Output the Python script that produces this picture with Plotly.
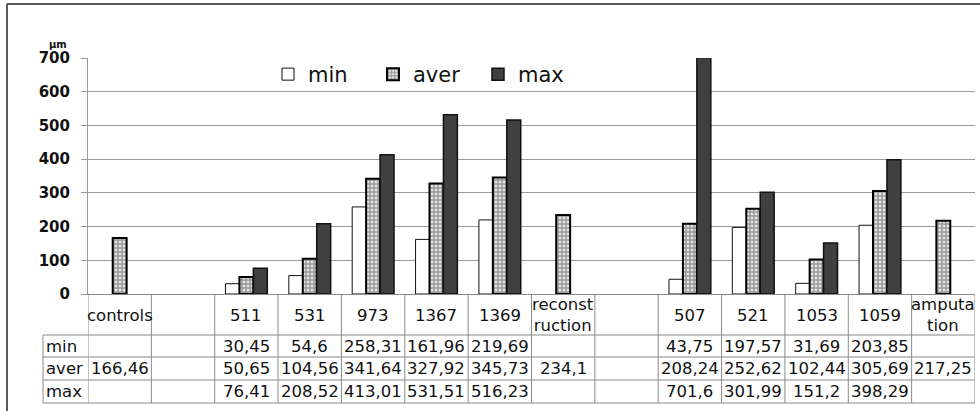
import plotly.graph_objects as go

# ---- data ----
categories = ["controls", "", "511", "531", "973", "1367", "1369", "reconst<br>ruction",
              "", "507", "521", "1053", "1059", "amputa<br>tion"]
min_vals = [None, None, 30.45, 54.6, 258.31, 161.96, 219.69, None, None, 43.75, 197.57, 31.69, 203.85, None]
aver_vals = [166.46, None, 50.65, 104.56, 341.64, 327.92, 345.73, 234.1, None, 208.24, 252.62, 102.44, 305.69, 217.25]
max_vals = [None, None, 76.41, 208.52, 413.01, 531.51, 516.23, None, None, 701.6, 301.99, 151.2, 398.29, None]
series_names = ["min", "aver", "max"]
y_ticks = [0, 100, 200, 300, 400, 500, 600, 700]

# ---- layout geometry (pixels) ----
W, H = 980, 411
L, R, T, B = 88, 975, 58, 294
PW, PH = R - L, B - T


def px(x):
    return (x - L) / PW


def py(y):
    return (B - y) / PH


def fmt(v):
    return ("%g" % v).replace(".", ",")


xs = list(range(len(categories)))
FONT = "DejaVu Sans"
TXT = 16.5
GRID = "#9a9a9a"
TBL = "#8a8a8a"

fig = go.Figure()
fig.add_trace(go.Bar(x=xs, y=min_vals, name=series_names[0],
                     marker=dict(color="white", line=dict(color="#111", width=1))))
fig.add_trace(go.Bar(x=xs, y=aver_vals, name=series_names[1],
                     marker=dict(color="white", line=dict(color="#000", width=2),
                                 pattern=dict(shape="+", fgcolor="#4a4a4a", bgcolor="#e6e6e6",
                                              size=4, solidity=0.6))))
fig.add_trace(go.Bar(x=xs, y=max_vals, name=series_names[2],
                     marker=dict(color="#404040", line=dict(color="#111", width=1.5))))

shapes = []
annotations = []

# table horizontal lines
for yy in [335, 357, 380, 403]:
    shapes.append(dict(type="line", xref="paper", yref="paper", x0=px(43), x1=1,
                       y0=py(yy), y1=py(yy), line=dict(color=TBL, width=1)))
# table vertical lines at column boundaries
for i in range(len(categories) + 1):
    shapes.append(dict(type="line", xref="x", yref="paper", x0=i - 0.5, x1=i - 0.5,
                       y0=py(294), y1=py(403), line=dict(color=TBL, width=1)))
# label column left border
shapes.append(dict(type="line", xref="paper", yref="paper", x0=px(43), x1=px(43),
                   y0=py(335), y1=py(403), line=dict(color=TBL, width=1)))
# outer chart border (left + top)
shapes.append(dict(type="line", xref="paper", yref="paper", x0=px(7), x1=px(7),
                   y0=py(4), y1=py(420), line=dict(color="#5a5a5a", width=2)))
shapes.append(dict(type="line", xref="paper", yref="paper", x0=px(7), x1=px(990),
                   y0=py(4), y1=py(4), line=dict(color="#5a5a5a", width=2)))

# category labels
for i, c in enumerate(categories):
    if c:
        annotations.append(dict(x=i, y=py(315), xref="x", yref="paper", text=c,
                                showarrow=False, font=dict(family=FONT, size=TXT, color="#111"),
                                xanchor="center", yanchor="middle"))

# table rows
rows = [(series_names[0], min_vals, 346), (series_names[1], aver_vals, 368.5), (series_names[2], max_vals, 391.5)]
for name, vals, yc in rows:
    annotations.append(dict(x=px(44), y=py(yc), xref="paper", yref="paper", text=name,
                            showarrow=False, font=dict(family=FONT, size=TXT, color="#111"),
                            xanchor="left", yanchor="middle"))
    for i, v in enumerate(vals):
        if v is not None:
            annotations.append(dict(x=i, y=py(yc), xref="x", yref="paper", text=fmt(v),
                                    showarrow=False, font=dict(family=FONT, size=TXT, color="#111"),
                                    xanchor="center", yanchor="middle"))

# unit label
annotations.append(dict(x=px(58), y=py(45), xref="paper", yref="paper", text="μm",
                        showarrow=False, font=dict(family=FONT, size=10, color="#111", weight="bold"),
                        xanchor="center", yanchor="middle"))

fig.update_layout(
    width=W, height=H,
    margin=dict(l=L, r=W - R, t=T, b=H - B),
    paper_bgcolor="white", plot_bgcolor="white",
    barmode="group", bargap=0.34, bargroupgap=0,
    showlegend=True,
    legend=dict(orientation="h", x=px(268), xanchor="left", y=py(54), yanchor="top",
                bgcolor="rgba(0,0,0,0)", entrywidth=60, entrywidthmode="pixels",
                font=dict(family=FONT, size=21, color="#111")),
    xaxis=dict(range=[-0.5, len(categories) - 0.5], showticklabels=False, ticks="",
               showgrid=False, zeroline=False, showline=True, linecolor=TBL, linewidth=1),
    yaxis=dict(range=[0, 700], tickvals=y_ticks, ticks="outside", ticklen=6, tickcolor=GRID,
               showgrid=True, gridcolor=GRID, gridwidth=1, zeroline=False,
               showline=True, linecolor=GRID, linewidth=1, ticklabelstandoff=8,
               tickfont=dict(family=FONT, size=15, color="#111", weight="bold")),
    shapes=shapes, annotations=annotations,
)

fig.write_html("out.html", config={"displayModeBar": False},
               post_script="document.body.style.margin='0';document.body.style.overflow='hidden';")
